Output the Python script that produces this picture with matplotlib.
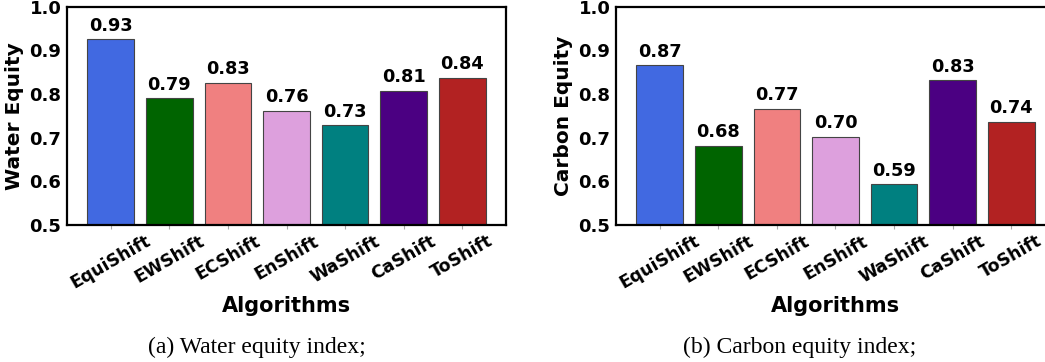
import matplotlib
matplotlib.use("Agg")
import matplotlib.pyplot as plt

algorithms = ["EquiShift", "EWShift", "ECShift", "EnShift", "WaShift", "CaShift", "ToShift"]
water_equity = [0.926, 0.790, 0.826, 0.762, 0.729, 0.808, 0.837]
carbon_equity = [0.866, 0.682, 0.766, 0.702, 0.593, 0.831, 0.737]
bar_colors = ["royalblue", "darkgreen", "lightcoral", "plum", "teal", "indigo", "firebrick"]
y_ticks = [0.5, 0.6, 0.7, 0.8, 0.9, 1.0]

fig = plt.figure(figsize=(10.45, 3.62), dpi=100)
W, H = 1045, 362

def make_axes(left_px, ylabel, values, caption, cap_x):
    ax = fig.add_axes([left_px / W, 1 - 225 / H, 439 / W, (225 - 6.7) / H])
    x = range(len(algorithms))
    bars = ax.bar(x, values, width=0.8, color=bar_colors, edgecolor="#444444", linewidth=0.8)
    for b, v in zip(bars, values):
        ax.text(b.get_x() + b.get_width() / 2, v + 0.01, f"{v:.2f}", ha="center", va="bottom",
                fontsize=12.8, fontweight="bold")
    ax.set_xlim(-0.75, 6.75)
    ax.set_ylim(0.5, 1.0)
    ax.set_yticks(y_ticks)
    ax.set_yticklabels([f"{t:.1f}" for t in y_ticks], fontsize=13, fontweight="bold")
    ax.set_xticks(list(x))
    ax.set_xticklabels(algorithms, rotation=30, ha="center", fontsize=12.5, fontweight="bold")
    ax.tick_params(axis="y", length=0, pad=4)
    ax.tick_params(axis="x", length=3, color="#aaaaaa", pad=2)
    for s in ax.spines.values():
        s.set_linewidth(1.6)
    ax.set_ylabel(ylabel, fontsize=14.5, fontweight="bold", labelpad=4)
    ax.set_xlabel("Algorithms", fontsize=15, fontweight="bold", labelpad=3)
    fig.text(cap_x / W, 1 - 347 / H, caption, ha="center", va="center",
             fontsize=17, family="Liberation Serif")
    return ax

make_axes(67, "Water Equity", water_equity, "(a) Water equity index;", 257)
make_axes(616, "Carbon Equity", carbon_equity, "(b) Carbon equity index;", 800)

fig.savefig("out.png", dpi=100)
